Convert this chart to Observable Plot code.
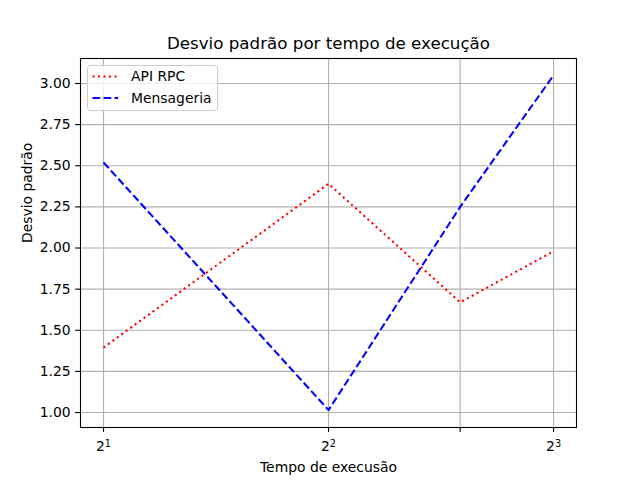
<!DOCTYPE html>
<html>
<head>
<meta charset="utf-8">
<script src="https://cdn.jsdelivr.net/npm/d3@7"></script>
<script src="https://cdn.jsdelivr.net/npm/@observablehq/plot@0.6"></script>
<style>
  body { margin: 0; background: #fff; }
</style>
</head>
<body>
<div id="chart"></div>
<script>
const tempos = [2, 4, 6, 8];
const apiRpc = [1.395, 2.39, 1.67, 1.98];
const mensageria = [2.52, 1.015, 2.25, 3.05];
const seriesNames = ["API RPC", "Mensageria"];
const xTicks = [2, 4, 6, 8];
const xTickBase = ["2", "2", "", "2"];
const xTickExp = ["1", "2", "", "3"];
const yTicks = [1.00, 1.25, 1.50, 1.75, 2.00, 2.25, 2.50, 2.75, 3.00];
const titleText = "Desvio padrão por tempo de execução";
const xLabel = "Tempo de execusão";
const yLabel = "Desvio padrão";

const rows = [];
tempos.forEach((t, i) => rows.push({t, v: apiRpc[i], s: seriesNames[0]}));
tempos.forEach((t, i) => rows.push({t, v: mensageria[i], s: seriesNames[1]}));

const FONT = "DejaVu Sans";
const FS = 13.9;
const LW = 2.08;
const dotted = `${LW},${1.65 * LW}`;
const dashed = `${3.7 * LW},${1.6 * LW}`;

const plot = Plot.plot({
  width: 640,
  height: 480,
  marginLeft: 80,
  marginRight: 64,
  marginTop: 58,
  marginBottom: 53,
  style: {fontFamily: FONT, fontSize: FS + "px", background: "#fff", color: "#000"},
  x: {type: "log", base: 2, domain: [1.863, 8.586]},
  y: {domain: [0.909, 3.152]},
  marks: [
    Plot.gridX(xTicks, {stroke: "#b0b0b0", strokeOpacity: 1, strokeWidth: 1.1}),
    Plot.gridY(yTicks, {stroke: "#b0b0b0", strokeOpacity: 1, strokeWidth: 1.1}),
    Plot.lineY(rows.filter(d => d.s === seriesNames[0]), {x: "t", y: "v", stroke: "red", strokeWidth: LW, strokeDasharray: dotted, strokeLinecap: "butt"}),
    Plot.lineY(rows.filter(d => d.s === seriesNames[1]), {x: "t", y: "v", stroke: "blue", strokeWidth: LW, strokeDasharray: dashed, strokeLinecap: "butt"}),
    Plot.frame({stroke: "#000", strokeWidth: 1.1}),
    Plot.axisX({ticks: xTicks, tickFormat: d => xTickBase[xTicks.indexOf(d)] + "|" + xTickExp[xTicks.indexOf(d)], tickSize: 4.9, tickPadding: 9, fontSize: FS, label: null, stroke: "#000", strokeWidth: 1.1}),
    Plot.axisY({ticks: yTicks, tickFormat: d => d.toFixed(2), tickSize: 4.9, tickPadding: 4.9, fontSize: FS, label: null, stroke: "#000", strokeWidth: 1.1}),
    Plot.text([titleText], {frameAnchor: "top", text: d => d, lineAnchor: "bottom", dy: -10, fontSize: 16.7, fill: "#000"}),
    Plot.text([xLabel], {frameAnchor: "bottom", text: d => d, lineAnchor: "middle", dy: 40, fontSize: FS, fill: "#000"}),
    Plot.text([yLabel], {frameAnchor: "left", text: d => d, rotate: -90, lineAnchor: "middle", dx: -53, fontSize: FS, fill: "#000"})
  ]
});

const svg = d3.select(plot);

// Rebuild x tick labels as base + superscript exponent
svg.selectAll("g[aria-label='x-axis tick label'] text").each(function() {
  const t = d3.select(this);
  const parts = t.text().split("|");
  t.text(null);
  if (!parts[0]) return;
  t.append("tspan").text(parts[0]);
  t.append("tspan").attr("font-size", FS * 0.7).attr("dy", "-0.45em").text(parts[1]);
});

// Legend (upper left, matplotlib style)
const lg = svg.append("g").attr("text-anchor", "start");
lg.append("rect")
  .attr("x", 87.5).attr("y", 65.5).attr("width", 130).attr("height", 45)
  .attr("rx", 3).attr("ry", 3)
  .attr("fill", "#fff").attr("fill-opacity", 0.8)
  .attr("stroke", "#cccccc").attr("stroke-width", 1);
const legendStyles = [
  {color: "red", dash: dotted},
  {color: "blue", dash: dashed}
];
seriesNames.forEach((name, i) => {
  const y = 76.5 + i * 21.5;
  lg.append("line")
    .attr("x1", 92.5).attr("x2", 118).attr("y1", y).attr("y2", y)
    .attr("stroke", legendStyles[i].color).attr("stroke-width", LW)
    .attr("stroke-dasharray", legendStyles[i].dash);
  lg.append("text")
    .attr("x", 131).attr("y", y).attr("dy", "0.35em")
    .attr("font-family", FONT).attr("font-size", FS).attr("fill", "#000")
    .text(name);
});

document.getElementById("chart").appendChild(plot);
</script>
</body>
</html>
